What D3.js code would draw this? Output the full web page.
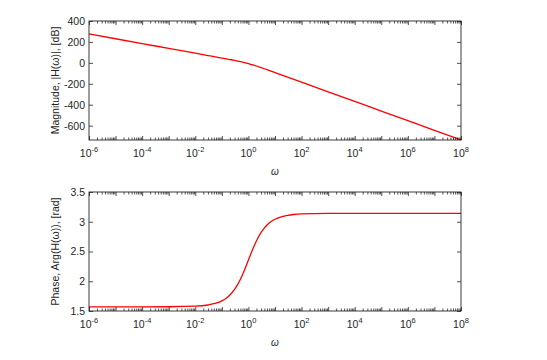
<!DOCTYPE html>
<html><head><meta charset="utf-8">
<script src="https://cdn.jsdelivr.net/npm/d3@7"></script>
<style>
body{margin:0;background:#fff;}
svg{display:block;font-family:"Liberation Sans",Arial,Helvetica,sans-serif;}
</style></head>
<body><svg id="c" width="547" height="360"></svg>
<script>
// Frequencies (rad/s)
const magOmega = [1e-6,1e-5,1e-4,1e-3,1e-2,0.03,0.1,0.2,0.3,0.5,0.7,1,1.5,2,3,5,7,10,30,100,1e3,1e4,1e5,1e6,1e7,1e8];
const magDb    = [276.3,230.3,184.2,138.2,92.1,70.1,45.9,31.8,23.2,11.6,3.2,-6.9,-19.9,-30.0,-45.0,-64.8,-78.0,-92.2,-136.1,-184.2,-276.3,-368.4,-460.5,-552.6,-644.7,-736.8];
const phOmega  = [1e-6,1e-4,1e-3,1e-2,0.03,0.06,0.1,0.15,0.2,0.3,0.4,0.5,0.7,1,1.5,2,3,4,5,7,10,15,20,30,50,100,1e3,1e4,1e6,1e8];
const phRad    = [1.5708,1.5709,1.5718,1.5808,1.6008,1.6307,1.6705,1.7197,1.7682,1.8621,1.9513,2.0344,2.1815,2.3562,2.5536,2.6779,2.8198,2.8966,2.9442,3.0010,3.0421,3.0750,3.0917,3.1083,3.1216,3.1316,3.1406,3.1415,3.1416,3.1416];
const xTickExp = [-6,-4,-2,0,2,4,6,8];
const magTicks = [400,200,0,-200,-400,-600];
const phTicks  = [1.5,2,2.5,3,3.5];
const magLabel = "Magnitude, |H(\u03C9)|, [dB]";
const phLabel  = "Phase, Arg(H(\u03C9)), [rad]";
const xLabel   = "\u03C9";

const svg = d3.select("#c");
const ink = "#262626";
const L = 89, R = 461, W = R - L;
const x = d3.scaleLog().domain([1e-6,1e8]).range([0, W]);
const decades = d3.range(-6,9).map(e => Math.pow(10,e));
const minors = [];
d3.range(-6,8).forEach(e => { for (let k=2;k<=9;k++) minors.push(k*Math.pow(10,e)); });

function panel(top, bottom, yDomain, yTicks, xs, ys, ylab) {
  const H = bottom - top;
  const y = d3.scaleLinear().domain(yDomain).range([H, 0]);
  const g = svg.append("g").attr("transform", `translate(${L},${top})`);

  const line = d3.line().x((d,i)=>x(xs[i])).y((d,i)=>y(ys[i])).curve(d3.curveMonotoneX);
  g.append("path").datum(xs).attr("d", line).attr("fill","none")
    .attr("stroke","#ff0000").attr("stroke-width",1.3);

  const style = sel => { sel.select(".domain").remove(); sel.selectAll("line").attr("stroke", ink).attr("stroke-width",0.8); };
  g.append("g").attr("transform",`translate(0,${H})`).call(d3.axisBottom(x).tickValues(decades).tickSize(-4).tickFormat("")).call(style);
  g.append("g").attr("transform",`translate(0,${H})`).call(d3.axisBottom(x).tickValues(minors).tickSize(-2.5).tickFormat("")).call(style);
  g.append("g").call(d3.axisTop(x).tickValues(decades).tickSize(-4).tickFormat("")).call(style);
  g.append("g").call(d3.axisTop(x).tickValues(minors).tickSize(-2.5).tickFormat("")).call(style);
  const la = g.append("g").call(d3.axisLeft(y).tickValues(yTicks).tickSize(-4).tickPadding(4).tickFormat(d => String(d)));
  la.call(style);
  la.selectAll("text").attr("fill", ink).style("font-size","10.5px").style("font-family","Liberation Sans, Arial, sans-serif");
  g.append("g").attr("transform",`translate(${W},0)`).call(d3.axisRight(y).tickValues(yTicks).tickSize(-4).tickFormat("")).call(style);

  g.append("rect").attr("x",0).attr("y",0).attr("width",W).attr("height",H)
    .attr("fill","none").attr("stroke",ink).attr("stroke-width",0.9);

  // decade labels with superscripts
  xTickExp.forEach(e => {
    const t = g.append("text").attr("x", x(Math.pow(10,e))).attr("y", H + 17)
      .attr("text-anchor","middle").attr("fill", ink).style("font-size","10.5px");
    t.append("tspan").text("10");
    t.append("tspan").attr("dy",-5).style("font-size","7.5px").text(String(e));
  });

  g.append("text").attr("x", W/2).attr("y", H + 35).attr("text-anchor","middle")
    .attr("fill", ink).style("font-size","10px").style("font-style","italic").text(xLabel);

  g.append("text").attr("transform",`translate(${55-L},${H/2}) rotate(-90)`)
    .attr("text-anchor","middle").attr("dominant-baseline","central")
    .attr("fill", ink).style("font-size","10.5px").text(ylab);
}

panel(21, 140, [-737, 400], magTicks, magOmega, magDb, magLabel);
panel(192, 311, [1.5, 3.5], phTicks, phOmega, phRad, phLabel);
</script></body></html>
